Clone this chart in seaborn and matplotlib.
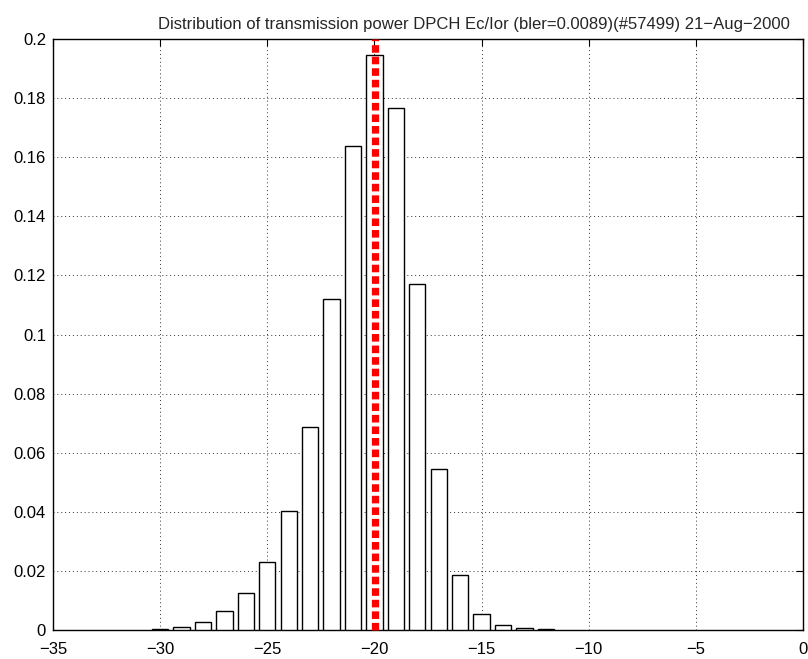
import matplotlib
matplotlib.use("Agg")
import matplotlib.pyplot as plt
import numpy as np
import pandas as pd
import seaborn as sns

power_db = [-30, -29, -28, -27, -26, -25, -24, -23, -22, -21, -20, -19, -18, -17, -16, -15, -14, -13, -12]
fraction = [0.0003, 0.0010, 0.0026, 0.0063, 0.0124, 0.0229, 0.0404, 0.0686, 0.1120, 0.1638, 0.1946,
            0.1765, 0.1170, 0.0546, 0.0187, 0.0055, 0.0016, 0.0006, 0.0002]
mean_power = -19.97
x_ticks = [-35, -30, -25, -20, -15, -10, -5, 0]
y_ticks = [0, 0.02, 0.04, 0.06, 0.08, 0.1, 0.12, 0.14, 0.16, 0.18, 0.2]
y_tick_labels = ["0", "0.02", "0.04", "0.06", "0.08", "0.1", "0.12", "0.14", "0.16", "0.18", "0.2"]
title = "Distribution of transmission power DPCH Ec/Ior (bler=0.0089)(#57499) 21\u2212Aug\u22122000"

sns.set_style("white")
plt.rcParams['font.family'] = ['Liberation Sans Narrow', 'Liberation Sans', 'DejaVu Sans']

fig = plt.figure(figsize=(8.08, 6.59), dpi=100)
ax = fig.add_axes([53 / 808, 1 - 630 / 659, 750 / 808, 591 / 659])

df = pd.DataFrame({"power": power_db, "fraction": fraction})
sns.barplot(data=df, x="power", y="fraction", native_scale=True, width=0.76,
            color="white", saturation=1, edgecolor="black", linewidth=1.0,
            errorbar=None, ax=ax, zorder=3)

ax.plot([mean_power, mean_power], [0, 0.2], color="red", lw=5.2,
        linestyle=(0, (1.05, 0.55)), dash_capstyle="butt", zorder=5, clip_on=False)

ax.set_xlim(-35, 0)
ax.set_ylim(0, 0.2)
ax.set_xticks(x_ticks)
ax.set_xticklabels([str(t).replace("-", "\u2212") for t in x_ticks])
ax.set_yticks(y_ticks)
ax.set_yticklabels(y_tick_labels)
ax.set_xlabel("")
ax.set_ylabel("")
ax.grid(True, color="#333333", linestyle=(0, (1, 3)), linewidth=0.7, zorder=0)
ax.set_axisbelow(True)
for s in ax.spines.values():
    s.set_visible(True)
    s.set_color("black")
    s.set_linewidth(1.0)
ax.tick_params(direction="in", length=5, width=0.8, top=True, right=True,
               labelsize=12, colors="black")
ax.tick_params(axis="x", pad=9)
ax.tick_params(axis="y", pad=5)

ax.text(0.561, 1.012, title, transform=ax.transAxes, ha="center", va="bottom", fontsize=12)

fig.savefig("out.png", dpi=100)
